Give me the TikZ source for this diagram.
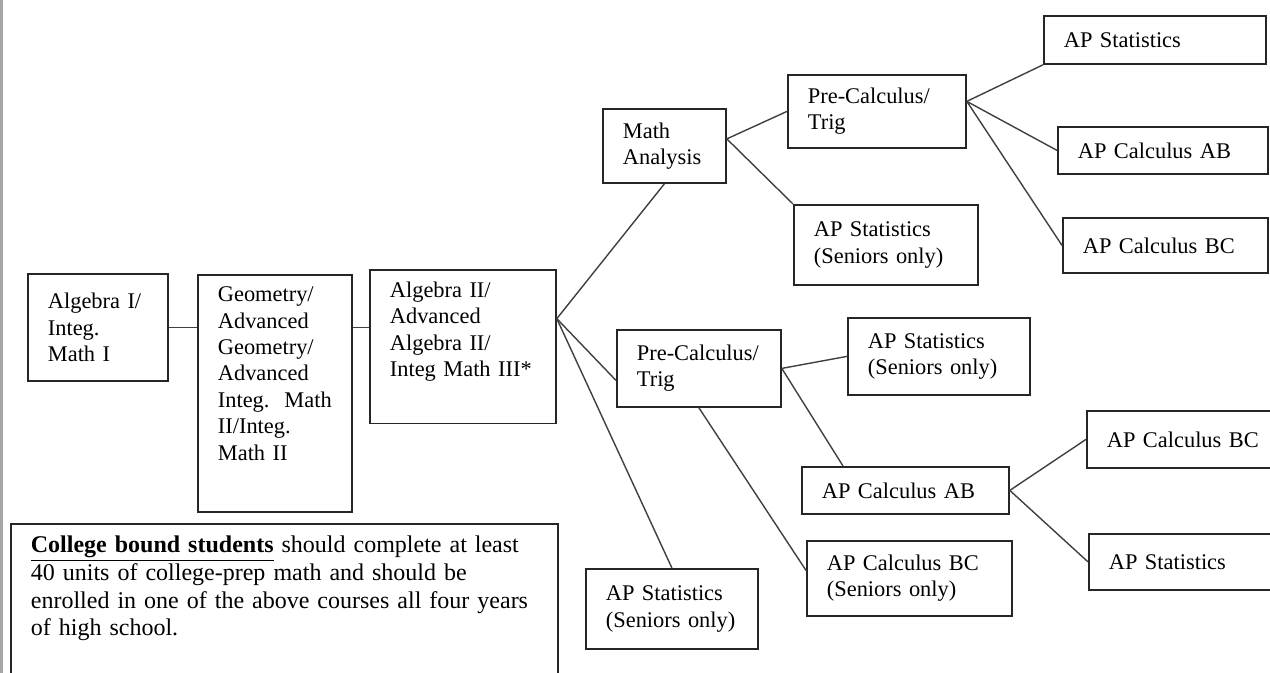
\documentclass[tikz,border=0pt]{standalone}
\usepackage{fontspec}
\setmainfont{Liberation Serif}
\usepackage{tikz}
\usetikzlibrary{calc}
\usetikzlibrary{positioning}

\begin{document}
\begin{tikzpicture}[x=0.5pt, y=-0.5pt,
  course/.style={rectangle, draw=black!85, line width=0.9pt, anchor=north west, align=left,
    inner xsep=10pt, inner ysep=6pt, font=\fontsize{11.2}{13.2}\selectfont},
  link/.style={draw=black!75, line width=0.7pt}]
\useasboundingbox (0, 0) rectangle (1270, 673);
\clip (0, 0) rectangle (1270, 673);
\fill [white] (0, 0) rectangle (1270, 673);
\draw [black!35, line width=1.2pt] (1.5, 0) -- (1.5, 673);
% first three years
\node [course, text width=50pt, minimum height=53.5pt] (alg1) at (27, 273) {Algebra I/\\Integ.\\Math I};
\node [course, text width=57pt, text depth=99pt] (geom) at (197, 274) {Geometry/\\Advanced\\Geometry/\\Advanced\\Integ.\ \ Math\\II/Integ.\\Math II};
\node [course, text width=73pt, text depth=57pt] (alg2) at (369, 269) {Algebra II/\\Advanced\\Algebra II/\\Integ Math III*};
\node [course, text width=253.5pt, text depth=120pt, font=\fontsize{12}{13.9}\selectfont] (note) at (10, 523) {\underline{\textbf{College bound students}} should complete at least\\40 units of college-prep math and should be\\enrolled in one of the above courses all four years\\of high school.};
% upper branch
\node [course, text width=41.5pt, minimum height=37pt] (mana) at (602, 108) {Math\\Analysis};
\node [course, text width=69pt, minimum height=36.5pt] (pct) at (787, 74) {Pre-Calculus/\\Trig};
\node [course, text width=72pt, minimum height=40pt] (apst1) at (793, 204) {AP Statistics\\(Seniors only)};
\node [course, text width=91pt, minimum height=24pt] (aps1) at (1043, 15) {AP Statistics};
\node [course, text width=85pt, minimum height=23.5pt] (ab1) at (1057, 126) {AP Calculus AB};
\node [course, text width=82.5pt, minimum height=27.5pt] (bc1) at (1062, 217) {AP Calculus BC};
% lower branch
\node [course, text width=62pt, minimum height=38.5pt] (pcl) at (616, 329) {Pre-Calculus/\\Trig};
\node [course, text width=71pt, minimum height=38.5pt] (apst2) at (847, 317) {AP Statistics\\(Seniors only)};
\node [course, text width=83.5pt, minimum height=23.5pt] (ab2) at (801, 466) {AP Calculus AB};
\node [course, text width=82.5pt, minimum height=37.5pt] (bcs) at (806, 540) {AP Calculus BC\\(Seniors only)};
\node [course, text width=66pt, minimum height=40pt] (apst3) at (585, 568) {AP Statistics\\(Seniors only)};
\node [course, text width=80pt, minimum height=28.5pt] (bc2) at (1086, 410) {AP Calculus BC};
\node [course, text width=80pt, minimum height=28pt] (aps2) at (1088, 533) {AP Statistics};
% connectors
\draw [link] (alg1.east) -- (alg1.east -| geom.west);
\draw [link] (alg1.east -| geom.east) -- (alg1.east -| alg2.west);
\draw [link] ([yshift=14pt]alg2.east) -- (mana.south);
\draw [link] ([yshift=14pt]alg2.east) -- ([yshift=-6pt]pcl.west);
\draw [link] ([yshift=14pt]alg2.east) -- (apst3.north);
\draw [link] ([yshift=3.5pt]mana.east) -- (pct.west);
\draw [link] ([yshift=3.5pt]mana.east) -- (apst1.north west);
\draw [link] ([yshift=5pt]pct.east) -- (aps1.south west);
\draw [link] ([yshift=5pt]pct.east) -- (ab1.west);
\draw [link] ([yshift=5pt]pct.east) -- (bc1.west);
\draw [link] (pcl.east) -- (apst2.west);
\draw [link] (pcl.east) -- ([xshift=21pt]ab2.north west);
\draw [link] (pcl.south) -- ([yshift=4pt]bcs.west);
\draw [link] (ab2.east) -- (bc2.west);
\draw [link] (ab2.east) -- (aps2.west);
\end{tikzpicture}
\end{document}
